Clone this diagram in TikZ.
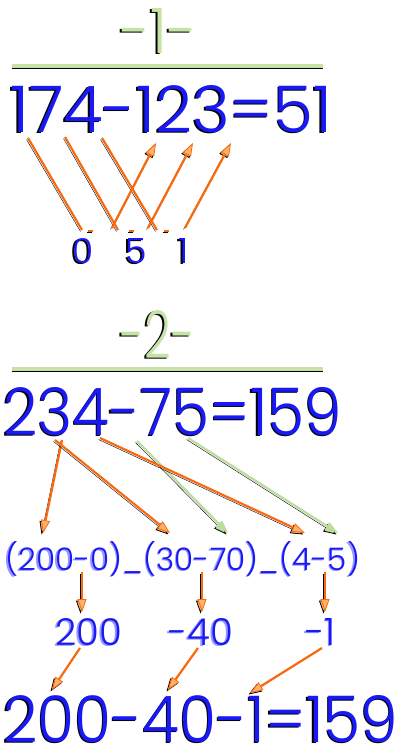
\documentclass[tikz,border=0pt]{standalone}
\usepackage{fontspec}
\setmainfont{Poppins Light}
\usetikzlibrary{arrows.meta, calc}
\definecolor{colDigit}{RGB}{25,25,245}
\definecolor{colLight}{RGB}{150,150,255}
\definecolor{colTitle}{RGB}{198,226,166}
\definecolor{colArrow}{RGB}{250,105,15}
\definecolor{colHead}{RGB}{255,178,105}
\definecolor{colGreenArrow}{RGB}{188,220,158}
\newcommand{\shadowed}[2]{\makebox[0pt][l]{\hspace*{-1.5pt}\raisebox{-1.5pt}{\color{#1}#2}}#2}
\tikzset{
    eqtext/.style={anchor=base west, inner sep=0pt, text=colDigit},
    titletext/.style={anchor=base west, inner sep=0pt, text=colTitle},
    bar/.style={draw=colTitle, line width=4pt,
        preaction={draw=black, transform canvas={shift={(-0.5pt,-2pt)}}}},
    link/.style={draw=colArrow, line width=2.2pt,
        preaction={draw=black, transform canvas={shift={(-1.5pt,-1.5pt)}}}},
    arrow/.style={link, -{Triangle[length=13pt, width=9pt, fill=colHead, line width=0.8pt]}},
    greenarrow/.style={draw=colGreenArrow, line width=2.2pt,
        -{Triangle[length=13pt, width=9pt, fill=colGreenArrow, line width=0.8pt]},
        preaction={draw=black, transform canvas={shift={(-1.5pt,-1.5pt)}}}},
    tick/.style={draw=colArrow, line width=1.5pt,
        preaction={draw=black, transform canvas={shift={(-1pt,-1pt)}}}}
}
\begin{document}
\begin{tikzpicture}[x=1pt, y=-1pt]

    \fill[white] (0,0) rectangle (400,747);
    \useasboundingbox (0,0) rectangle (400,747);

    % -1-
    \node[titletext] (titleA) at (120,53) {\shadowed{black}{\resizebox{77pt}{45pt}{-1-}}};
    \coordinate (barAl) at (12,66);
    \coordinate (barAr) at (323,66);
    \draw[bar] (barAl) -- (barAr);

    \node[eqtext] (eqA) at (10,132) {\shadowed{black}{\resizebox{322pt}{47pt}{174-123=51}}};

    \node[eqtext] (r0) at (72,263) {\shadowed{black}{\resizebox{!}{25pt}{0}}};
    \node[eqtext] (r5) at (125,263) {\shadowed{black}{\resizebox{!}{25pt}{5}}};
    \node[eqtext] (r1) at (178,263) {\shadowed{black}{\resizebox{!}{25pt}{1}}};

    \coordinate (a1s) at (28,138);  \coordinate (a1e) at (82,230);
    \coordinate (a2s) at (65,137);  \coordinate (a2e) at (118,230);
    \coordinate (a3s) at (102,138); \coordinate (a3e) at (157,230);
    \coordinate (b1s) at (112,228); \coordinate (b1e) at (156,143);
    \coordinate (b2s) at (148,228); \coordinate (b2e) at (193,143);
    \coordinate (b3s) at (185,228); \coordinate (b3e) at (231,143);

    \draw[link] (a1s) -- (a1e);
    \draw[link] (a2s) -- (a2e);
    \draw[link] (a3s) -- (a3e);
    \draw[arrow] (b1s) -- (b1e);
    \draw[arrow] (b2s) -- (b2e);
    \draw[arrow] (b3s) -- (b3e);

    \draw[tick] (88,231) -- (93,231);
    \draw[tick] (129,231) -- (134,231);
    \draw[tick] (164,231) -- (169,231);

    % -2-
    \node[titletext] (titleB) at (120,358) {\shadowed{black}{\resizebox{75pt}{48pt}{-2-}}};
    \coordinate (barBl) at (12,369);
    \coordinate (barBr) at (323,369);
    \draw[bar] (barBl) -- (barBr);

    \node[eqtext] (eqB) at (3,435) {\shadowed{black}{\resizebox{339pt}{48pt}{234-75=159}}};

    \node[eqtext] (split) at (5,570) {\shadowed{colLight}{\resizebox{355pt}{!}{(200-0)\_(30-70)\_(4-5)}}};

    \coordinate (o1s) at (62,440);  \coordinate (o1e) at (43,533);
    \coordinate (o2s) at (55,440);  \coordinate (o2e) at (170,533);
    \coordinate (g1s) at (137,441); \coordinate (g1e) at (228,533);
    \coordinate (o3s) at (100,438); \coordinate (o3e) at (305,533);
    \coordinate (g2s) at (188,438); \coordinate (g2e) at (338,533);

    \draw[arrow] (o1s) -- (o1e);
    \draw[arrow] (o2s) -- (o2e);
    \draw[greenarrow] (g1s) -- (g1e);
    \draw[arrow] (o3s) -- (o3e);
    \draw[greenarrow] (g2s) -- (g2e);

    \node[eqtext] (p200) at (55,645) {\shadowed{colLight}{\resizebox{!}{27pt}{200}}};
    \node[eqtext] (p40) at (168,645) {\shadowed{colLight}{\resizebox{!}{27pt}{-40}}};
    \node[eqtext] (p1) at (305,645) {\shadowed{colLight}{\resizebox{!}{27pt}{-1}}};

    \coordinate (d1s) at (82,572);  \coordinate (d1e) at (82,612);
    \coordinate (d2s) at (202,572); \coordinate (d2e) at (202,612);
    \coordinate (d3s) at (325,572); \coordinate (d3e) at (325,612);
    \draw[arrow] (d1s) -- (d1e);
    \draw[arrow] (d2s) -- (d2e);
    \draw[arrow] (d3s) -- (d3e);

    \coordinate (e1s) at (80,648);  \coordinate (e1e) at (52,690);
    \coordinate (e2s) at (198,648); \coordinate (e2e) at (168,690);
    \coordinate (e3s) at (322,648); \coordinate (e3e) at (250,693);
    \draw[arrow] (e1s) -- (e1e);
    \draw[arrow] (e2s) -- (e2e);
    \draw[arrow] (e3s) -- (e3e);

    \node[eqtext] (final) at (3,742) {\shadowed{black}{\resizebox{395pt}{47pt}{200-40-1=159}}};

\end{tikzpicture}
\end{document}
